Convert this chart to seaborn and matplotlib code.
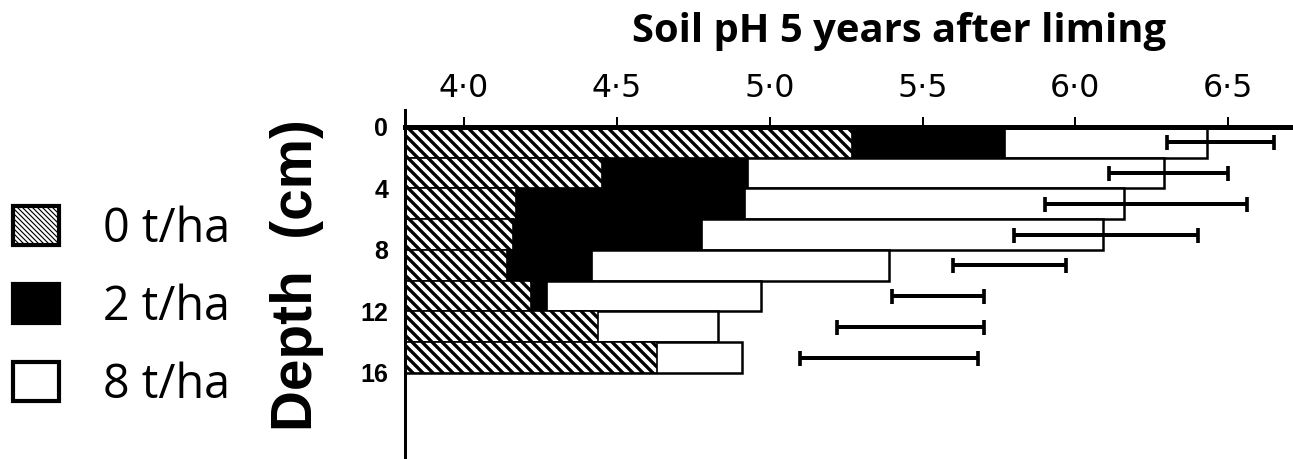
import matplotlib
matplotlib.use("Agg")
import matplotlib.pyplot as plt
from matplotlib.patches import Patch
import seaborn as sns
import pandas as pd

# soil depth slices (cm), top to bottom
depths = ["0-2", "2-4", "4-6", "6-8", "8-10", "10-12", "12-14", "14-16"]

# soil pH per lime rate
ph_0t = [5.27, 4.45, 4.17, 4.16, 4.14, 4.22, 4.44, 4.63]
ph_2t = [5.77, 4.93, 4.92, 4.78, 4.42, 4.27, 4.40, 4.60]
ph_8t = [6.43, 6.29, 6.16, 6.09, 5.39, 4.97, 4.83, 4.91]

# floating range bars drawn right of the bars
err_lo = [6.30, 6.11, 5.90, 5.80, 5.60, 5.40, 5.22, 5.10]
err_hi = [6.65, 6.50, 6.56, 6.40, 5.97, 5.70, 5.70, 5.68]

ph_ticks = [4.0, 4.5, 5.0, 5.5, 6.0, 6.5]
ph_ticklabels = ["4\u00b70", "4\u00b75", "5\u00b70", "5\u00b75", "6\u00b70", "6\u00b75"]
depth_ticklabels = ["0", "4", "8", "12", "16"]
legend_labels = ["0 t/ha", "2 t/ha", "8 t/ha"]

df = pd.DataFrame({"depth": depths, "t0": ph_0t, "t2": ph_2t, "t8": ph_8t})

BSL = chr(92)  # backslash, for hatch patterns

sns.set_style("white")
plt.rcParams.update({
    "hatch.linewidth": 2.0,
    "hatch.color": "black",
    "text.color": "black",
    "axes.labelcolor": "black",
    "xtick.color": "black",
    "ytick.color": "black",
})

DPI = 120
fig = plt.figure(figsize=(1293 / DPI, 459 / DPI), dpi=DPI)
ax = fig.add_axes([405 / 1293, 0, 888 / 1293, 1 - 110 / 459])

bar_kw = dict(y="depth", orient="h", width=1.0, saturation=1, errorbar=None,
              order=depths, ax=ax)
sns.barplot(data=df, x="t8", color="white", edgecolor="black", linewidth=1.5, **bar_kw)
sns.barplot(data=df, x="t2", color="black", edgecolor="black", linewidth=1.0, **bar_kw)
sns.barplot(data=df, x="t0", color="white", edgecolor="black", linewidth=1.0,
            hatch=BSL * 4, **bar_kw)

rows = list(range(len(depths)))
mid = [(a + b) / 2 for a, b in zip(err_lo, err_hi)]
half = [(b - a) / 2 for a, b in zip(err_lo, err_hi)]
ax.errorbar(mid, rows, xerr=half, fmt="none", ecolor="black",
            elinewidth=2.4, capsize=4.5, capthick=2.2)

ax.set_xlim(3.807, 6.712)
ax.set_ylim(len(depths) + 2.3, -1.05)

ax.xaxis.tick_top()
ax.set_xticks(ph_ticks)
ax.set_xticklabels(ph_ticklabels)
ax.tick_params(axis="x", direction="out", length=6, width=1.2, pad=8,
               colors="black", labelsize=19)
for tick in ax.xaxis.get_major_ticks():
    for lbl in (tick.label1, tick.label2):
        lbl.set_fontweight("bold")
        lbl.set_family("Liberation Sans")

ax.set_yticks([r - 0.5 for r in range(0, len(depths) + 1, 2)])
ax.set_yticklabels(depth_ticklabels, fontsize=15, fontweight="bold", family="Liberation Sans")
ax.tick_params(axis="y", length=0, pad=10)
ax.set_xlabel("")
ax.set_ylabel("")

for side in ["right", "bottom"]:
    ax.spines[side].set_visible(False)
ax.spines["top"].set_position(("data", -0.5))
ax.spines["top"].set_linewidth(3)
ax.spines["top"].set_color("black")
ax.spines["left"].set_linewidth(1.8)
ax.spines["left"].set_color("black")

fig.text(899 / 1293, 1 - 42 / 459, "Soil pH 5 years after liming", ha="center",
         va="baseline", fontsize=24, fontweight="bold", family="Open Sans")
fig.text(297 / 1293, 1 - 275 / 459, "Depth  (cm)", rotation=90, ha="center",
         va="center", fontsize=34, fontweight="bold", family="Liberation Sans")

with plt.rc_context({"hatch.linewidth": 0.7}):
    handles = [
        Patch(facecolor="white", edgecolor="black", linewidth=2.5, hatch=BSL * 8),
        Patch(facecolor="black", edgecolor="black", linewidth=2.5),
        Patch(facecolor="white", edgecolor="black", linewidth=2.5),
    ]
    fig.legend(handles, legend_labels, loc="center left",
               bbox_to_anchor=(13 / 1293, 1 - 307 / 459), frameon=False,
               prop={"family": "Open Sans", "size": 28},
               handlelength=0.99, handleheight=0.9, handletextpad=0.94,
               labelspacing=0.65, borderpad=0, borderaxespad=0)

fig.savefig("out.png", dpi=DPI)
plt.close(fig)
